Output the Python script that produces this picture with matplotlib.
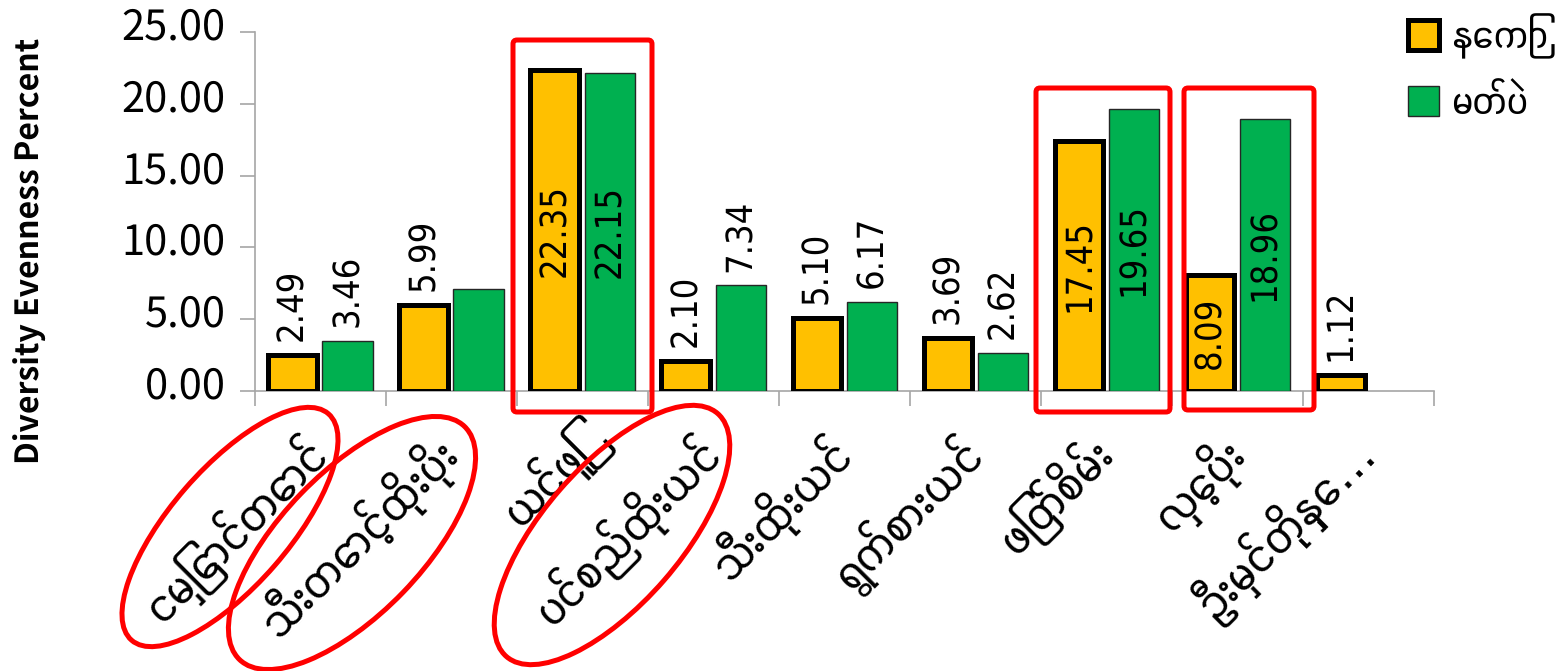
import numpy as np
import matplotlib
matplotlib.use("Agg")
import matplotlib.pyplot as plt
from matplotlib import font_manager
from matplotlib.ft2font import FT2Font
from matplotlib.patches import Patch, Ellipse, FancyBboxPatch
from matplotlib.transforms import IdentityTransform, ScaledTranslation

plt.rcParams["text.hinting"] = "no_hinting"

# data
categories = ["ငမြှောင်တောင်", "သီးတောင့်ထိုးပိုး", "ယင်ဖြူ", "ပင်စည်ထိုးယင်", "သီးထိုးယင်",
              "ရွက်စားယင်", "ဖြတ်စိမ်း", "လှေ့ပိုး", "ဦးမှင်တိုနှေ…"]
series_names = ["နေကြာ", "မတ်ပဲ"]
sunflower = [2.49, 5.99, 22.35, 2.10, 5.10, 3.69, 17.45, 8.09, 1.12]
blackgram = [3.46, 7.10, 22.15, 7.34, 6.17, 2.62, 19.65, 18.96, np.nan]
# which bars carry a value label, and whether it sits inside the bar
sunflower_lab = ["out", "out", "in", "out", "out", "out", "in", "in", "out"]
blackgram_lab = ["out", None, "in", "out", "out", "out", "in", "in", None]

# look for a font that can draw Myanmar script, prefer a sans one
candidates = []
for f in font_manager.fontManager.ttflist:
    try:
        if FT2Font(f.fname).get_char_index(0x1000):
            candidates.append(f.name)
    except Exception:
        pass
candidates.sort(key=lambda n: (0 if "Sans" in n else 1, 1 if "UI" in n else 0, n))
mm_family = ([candidates[0]] if candidates else ["Noto Sans CJK JP"]) + ["DejaVu Sans"]
num_family = ["Noto Sans CJK JP", "DejaVu Sans"]

W, H = 1562, 671
fig = plt.figure(figsize=(W / 100, H / 100), dpi=100)
ax = fig.add_axes([254.6 / W, 1 - 390.7 / H, (1434 - 254.6) / W, (390.7 - 32.3) / H])

x = np.arange(len(categories))
off = 0.21
ax.bar(x - off, sunflower, width=0.37, color="#FFC000", edgecolor="black", linewidth=3.6, zorder=3)
ax.bar(x + off, blackgram, width=0.385, color="#00B050", edgecolor="#262626", linewidth=1.0, zorder=3)

lab_kw = dict(rotation=90, fontsize=26, family="DejaVu Sans", fontstretch="condensed", zorder=5)
for xs, vals, labs in [(x - off, sunflower, sunflower_lab), (x + off, blackgram, blackgram_lab)]:
    for xi, v, l in zip(xs, vals, labs):
        if l == "out":
            ax.annotate(f"{v:.2f}", (xi, v), xytext=(0, 10), textcoords="offset points",
                        ha="center", va="bottom", **lab_kw)
        elif l == "in":
            ax.text(xi, v / 2, f"{v:.2f}", ha="center", va="center", **lab_kw)

ax.set_xlim(-0.5, len(categories) - 0.5)
ax.set_ylim(0, 25)
yt = np.arange(0, 25.1, 5)
ax.set_yticks(yt)
ax.set_yticklabels([f"{t:.2f}" for t in yt], family=num_family, fontsize=30)
ax.set_xticks(x)
ax.set_xticklabels(categories, rotation=45, ha="right", va="center", rotation_mode="anchor",
                   family=mm_family, fontsize=34)
ax.set_xticks(np.arange(-0.5, len(categories)), minor=True)
ax.tick_params(axis="x", which="major", length=0, pad=40)
ax.tick_params(axis="x", which="minor", length=11, color="#A6A6A6", width=1.2)
ax.tick_params(axis="y", length=11, color="#A6A6A6", width=1.2, pad=10)

for s in ["top", "right"]:
    ax.spines[s].set_visible(False)
for s in ["left", "bottom"]:
    ax.spines[s].set_color("#A6A6A6")
    ax.spines[s].set_linewidth(1.2)

fig.text(30 / W, 1 - 251 / H, "Diversity Evenness Percent", rotation=90, ha="center", va="center",
         family=num_family, fontweight="bold", fontsize=23)

handles = [Patch(facecolor="#FFC000", edgecolor="black", linewidth=3.6),
           Patch(facecolor="#00B050", edgecolor="#262626", linewidth=1.0)]
fig.legend(handles, series_names, loc="upper left", bbox_to_anchor=(1408 / W, 1 - 14 / H),
           frameon=False, borderaxespad=0, borderpad=0, handlelength=0.8, handleheight=0.8,
           handletextpad=0.3, labelspacing=0.65, prop={"family": mm_family, "size": 28})

# red highlight marks
red = "#FF0000"
px = IdentityTransform()
for (x0, y0, x1, y1) in [(513, 40, 652, 412), (1036, 88, 1170, 412), (1184, 88, 1314, 410)]:
    fig.patches.append(FancyBboxPatch((x0, H - y1), x1 - x0, y1 - y0,
                                      boxstyle="round,pad=0,rounding_size=4",
                                      fill=False, edgecolor=red, linewidth=3.6, transform=px))
for (cx, cy, a, b, ang) in [(230, 527, 150, 59, 49), (352, 543, 162, 71, 46), (612, 535, 161, 69, 49)]:
    fig.patches.append(Ellipse((cx, H - cy), 2 * a, 2 * b, angle=ang, fill=False,
                               edgecolor=red, linewidth=3.6, transform=px))

# y tick labels sit a little above their ticks
fig.canvas.draw()
for lab in ax.get_yticklabels():
    lab.set_transform(lab.get_transform() + ScaledTranslation(0, 9 / 100, fig.dpi_scale_trans))

fig.savefig("out.png", dpi=100)
